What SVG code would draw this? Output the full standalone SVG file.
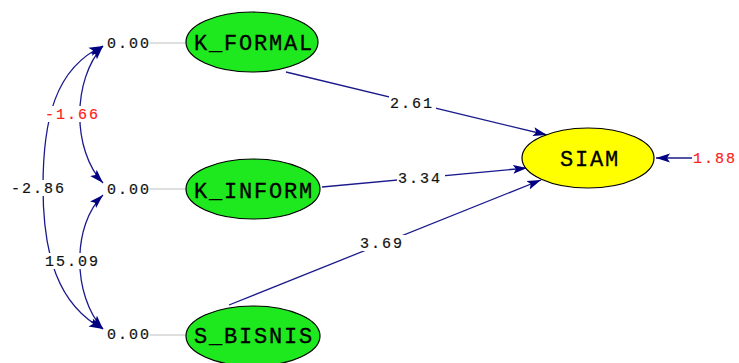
<svg xmlns="http://www.w3.org/2000/svg" width="739" height="363" viewBox="0 0 739 363">
  <style>
    .name { font-family: "Liberation Mono", "DejaVu Sans Mono", monospace; font-size: 22px; letter-spacing: 1.8px; fill: #000; stroke: #000; stroke-width: 0.3; text-anchor: middle; }
    .num { font-family: "Liberation Mono", "DejaVu Sans Mono", monospace; font-size: 15px; letter-spacing: 2px; fill: #111; stroke: #111; stroke-width: 0.2; }
    .red { fill: #ff2020; stroke: #ff2020; }
    .exo { fill: #1ee81e; stroke: #000; stroke-width: 1.2; }
    .endo { fill: #ffff00; stroke: #000; stroke-width: 1.2; }
    .tie { stroke: #c0c0c0; stroke-width: 1.2; fill: none; }
    .path { stroke: #1a1a8c; stroke-width: 1.3; fill: none; }
    .bg { fill: #fff; }
  </style>
  <defs>
    <marker id="ah" viewBox="0 0 14 10" refX="14" refY="5" markerWidth="14" markerHeight="10" markerUnits="userSpaceOnUse" orient="auto-start-reverse">
      <path d="M0,0.5 L14,5 L0,9.5 L3,5 Z" fill="#000080"/>
    </marker>
  </defs>
  <rect width="739" height="363" fill="#fff"/>

  <!-- connectors: covariances (left) and paths into SIAM -->
  <g id="connectors">
    <path class="path" d="M103,46 C72,80 72,150 103,183" marker-start="url(#ah)" marker-end="url(#ah)"/>
    <path class="path" d="M103,46 C55,68 43,120 43,187 C43,255 58,305 103,329" marker-start="url(#ah)" marker-end="url(#ah)"/>
    <path class="path" d="M103,195 C72,225 72,295 103,329" marker-start="url(#ah)" marker-end="url(#ah)"/>
    <path class="path" d="M286,72 L547,135" marker-end="url(#ah)"/>
    <path class="path" d="M322,187 L527,168" marker-end="url(#ah)"/>
    <path class="path" d="M229,305 L541,180" marker-end="url(#ah)"/>
    <path class="path" d="M692,158 L656,158" marker-end="url(#ah)"/>

    <rect class="bg" x="44" y="106" width="57" height="16"/>
    <text class="num red" x="45" y="119">-1.66</text>
    <rect class="bg" x="10" y="180" width="57" height="16"/>
    <text class="num" x="11" y="193">-2.86</text>
    <rect class="bg" x="44" y="253" width="57" height="16"/>
    <text class="num" x="45" y="266">15.09</text>
    <rect class="bg" x="389" y="95" width="47" height="16"/>
    <text class="num" x="390" y="108">2.61</text>
    <rect class="bg" x="397" y="170" width="48" height="16"/>
    <text class="num" x="398" y="183">3.34</text>
    <rect class="bg" x="359" y="235" width="47" height="16"/>
    <text class="num" x="360" y="248">3.69</text>
    <text class="num red" x="693" y="163">1.88</text>
  </g>

  <g id="K_FORMAL">
    <line class="tie" x1="150" y1="43" x2="186" y2="43"/>
    <text class="num" x="107" y="48">0.00</text>
    <ellipse class="exo" cx="252" cy="42" rx="66" ry="30"/>
    <text class="name" x="254" y="50">K_FORMAL</text>
  </g>

  <g id="K_INFORM">
    <line class="tie" x1="150" y1="189" x2="186" y2="189"/>
    <text class="num" x="107" y="194">0.00</text>
    <ellipse class="exo" cx="253" cy="189" rx="67" ry="30"/>
    <text class="name" x="254" y="198">K_INFORM</text>
  </g>

  <g id="S_BISNIS">
    <line class="tie" x1="150" y1="335" x2="186" y2="335"/>
    <text class="num" x="107" y="339">0.00</text>
    <ellipse class="exo" cx="253" cy="336" rx="67" ry="30"/>
    <text class="name" x="254" y="343">S_BISNIS</text>
  </g>

  <g id="SIAM">
    <ellipse class="endo" cx="588" cy="158" rx="66" ry="30"/>
    <text class="name" x="590" y="166">SIAM</text>
  </g>
</svg>
